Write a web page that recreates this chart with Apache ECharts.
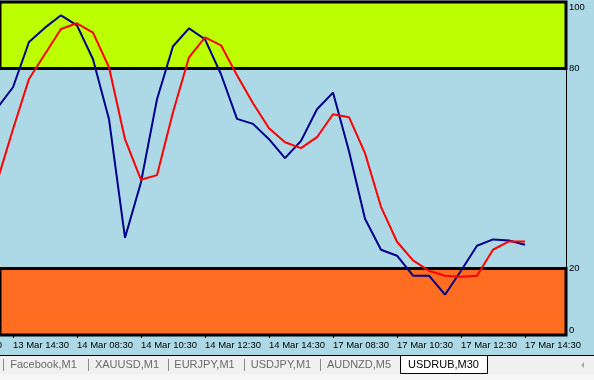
<!DOCTYPE html>
<html>
<head>
<meta charset="utf-8">
<script src="https://cdn.jsdelivr.net/npm/echarts@6/dist/echarts.min.js"></script>
<style>html,body{margin:0;padding:0;background:#ADD8E6;}#c{width:594px;height:380px;}</style>
</head>
<body>
<div id="c"></div>
<script>
// Bar times (M30 bars), index 0 = leftmost bar (partly off-screen)
var barTimes = [
  "13 Mar 14:00","13 Mar 14:30","13 Mar 15:00","13 Mar 15:30","13 Mar 16:00",
  "14 Mar 08:30","14 Mar 09:00","14 Mar 09:30","14 Mar 10:00","14 Mar 10:30",
  "14 Mar 11:00","14 Mar 11:30","14 Mar 12:00","14 Mar 12:30","14 Mar 13:00",
  "14 Mar 13:30","14 Mar 14:00","14 Mar 14:30","14 Mar 15:00","14 Mar 15:30",
  "14 Mar 16:00","17 Mar 08:30","17 Mar 09:00","17 Mar 09:30","17 Mar 10:00",
  "17 Mar 10:30","17 Mar 11:00","17 Mar 11:30","17 Mar 12:00","17 Mar 12:30",
  "17 Mar 13:00","17 Mar 13:30","17 Mar 14:00","17 Mar 14:30"
];
// Stochastic main line (blue)
var mainLine = [68.1, 74.4, 88.0, 92.3, 96.0, 93.0, 82.8, 64.8, 29.2, 45.9,
  70.8, 86.7, 92.1, 88.8, 78.3, 64.9, 63.4, 58.8, 53.1, 58.3,
  67.8, 72.8, 55.2, 34.9, 25.6, 23.8, 17.8, 17.8, 12.1, 19.3,
  26.8, 28.7, 28.4, 27.1];
// Stochastic signal line (red)
var signalLine = [46.0, 61.8, 76.9, 84.4, 91.9, 93.6, 90.8, 80.4, 58.8, 46.6,
  48.0, 66.9, 83.4, 89.4, 87.0, 78.0, 69.6, 62.1, 57.9, 56.1,
  59.4, 66.3, 65.4, 54.6, 38.5, 28.0, 22.4, 19.3, 17.8, 17.5,
  17.8, 25.6, 28.1, 28.1];
// Time-axis label positions (bar indices)
var timeTickIdx = [1, 5, 9, 13, 17, 21, 25, 29, 33];
var clippedLeftLabel = "13 Mar 12:30";
// Level bands and y labels
var upperBand = [80, 100];
var lowerBand = [0, 20];
var yTicks = [0, 20, 80, 100];
// Tabs
var tabs = ["Facebook,M1", "XAUUSD,M1", "EURJPY,M1", "USDJPY,M1", "AUDNZD,M5", "USDRUB,M30"];
var activeTab = "USDRUB,M30";

var FONT = "'Liberation Sans', Arial, sans-serif";
var chart = echarts.init(document.getElementById('c'), null, {renderer: 'canvas'});

function pairs(arr) { return arr.map(function (v, i) { return [i, v]; }); }

var tabCenters = [43.5, 127, 204.5, 281, 359, 443.5];
var sepX = [3.5, 88.5, 168.5, 244.5, 320.5];

var graphics = [
  {type: 'rect', shape: {x: 0, y: 355, width: 594, height: 25}, style: {fill: '#F0F0F0'}, z: 10},
  {type: 'rect', shape: {x: 0, y: 374, width: 594, height: 6}, style: {fill: '#F6F6F6'}, z: 10},
  {type: 'line', shape: {x1: 0, y1: 355.5, x2: 594, y2: 355.5}, style: {stroke: '#000', lineWidth: 1}, z: 11},
  {type: 'rect', shape: {x: 400.5, y: 355.5, width: 87, height: 18}, style: {fill: '#FFFFFF', stroke: '#000', lineWidth: 1}, z: 12},
  {type: 'polygon', shape: {points: [[581, 365], [584, 362], [584, 368]]}, style: {fill: '#A8A8A8'}, z: 12},
  {type: 'text', style: {text: clippedLeftLabel, x: 2, y: 345, align: 'right', verticalAlign: 'middle', font: '9.5px ' + FONT, fill: '#000'}, z: 5}
];
sepX.forEach(function (x) {
  graphics.push({type: 'line', shape: {x1: x, y1: 359, x2: x, y2: 371}, style: {stroke: '#8a8a8a', lineWidth: 1}, z: 12});
});
tabs.forEach(function (t, i) {
  graphics.push({type: 'text', style: {text: t, x: tabCenters[i], y: 365, align: 'center', verticalAlign: 'middle',
    font: '11px ' + FONT, fill: t === activeTab ? '#000' : '#6a6a6a'}, z: 13});
});

var option = {
  backgroundColor: '#ADD8E6',
  animation: false,
  grid: {left: 0, right: 28, top: 2, bottom: 45, containLabel: false},
  xAxis: {
    type: 'value', min: 0.1875, max: 35.5625,
    axisLine: {show: false},
    splitLine: {show: false},
    axisTick: {show: true, customValues: timeTickIdx, length: 3, lineStyle: {color: '#000', width: 1}},
    axisLabel: {
      customValues: timeTickIdx, align: 'left', margin: 5,
      fontFamily: FONT, fontSize: 9.5, color: '#000',
      formatter: function (v) { return barTimes[Math.round(v)] || ''; }
    }
  },
  yAxis: {
    type: 'value', min: 0, max: 100, position: 'right',
    axisLine: {show: true, lineStyle: {color: '#000', width: 1}},
    axisTick: {show: false},
    splitLine: {show: false},
    axisLabel: {
      customValues: yTicks, margin: 3, align: 'left',
      fontFamily: FONT, fontSize: 9.5, color: '#000',
      verticalAlignMaxLabel: 'top', verticalAlignMinLabel: 'bottom'
    }
  },
  series: [
    {
      type: 'line', data: pairs(mainLine), showSymbol: false, z: 3,
      lineStyle: {color: '#00008B', width: 2}, itemStyle: {color: '#00008B'},
      markArea: {
        silent: true,
        data: [
          [{yAxis: upperBand[0], itemStyle: {color: '#BCFF00', borderColor: '#000', borderWidth: 3}}, {yAxis: upperBand[1]}],
          [{yAxis: lowerBand[0], itemStyle: {color: '#FF6D23', borderColor: '#000', borderWidth: 3}}, {yAxis: lowerBand[1]}]
        ]
      }
    },
    {
      type: 'line', data: pairs(signalLine), showSymbol: false, z: 4,
      lineStyle: {color: '#FF0000', width: 2}, itemStyle: {color: '#FF0000'}
    }
  ],
  graphic: graphics
};
chart.setOption(option);
</script>
</body>
</html>
